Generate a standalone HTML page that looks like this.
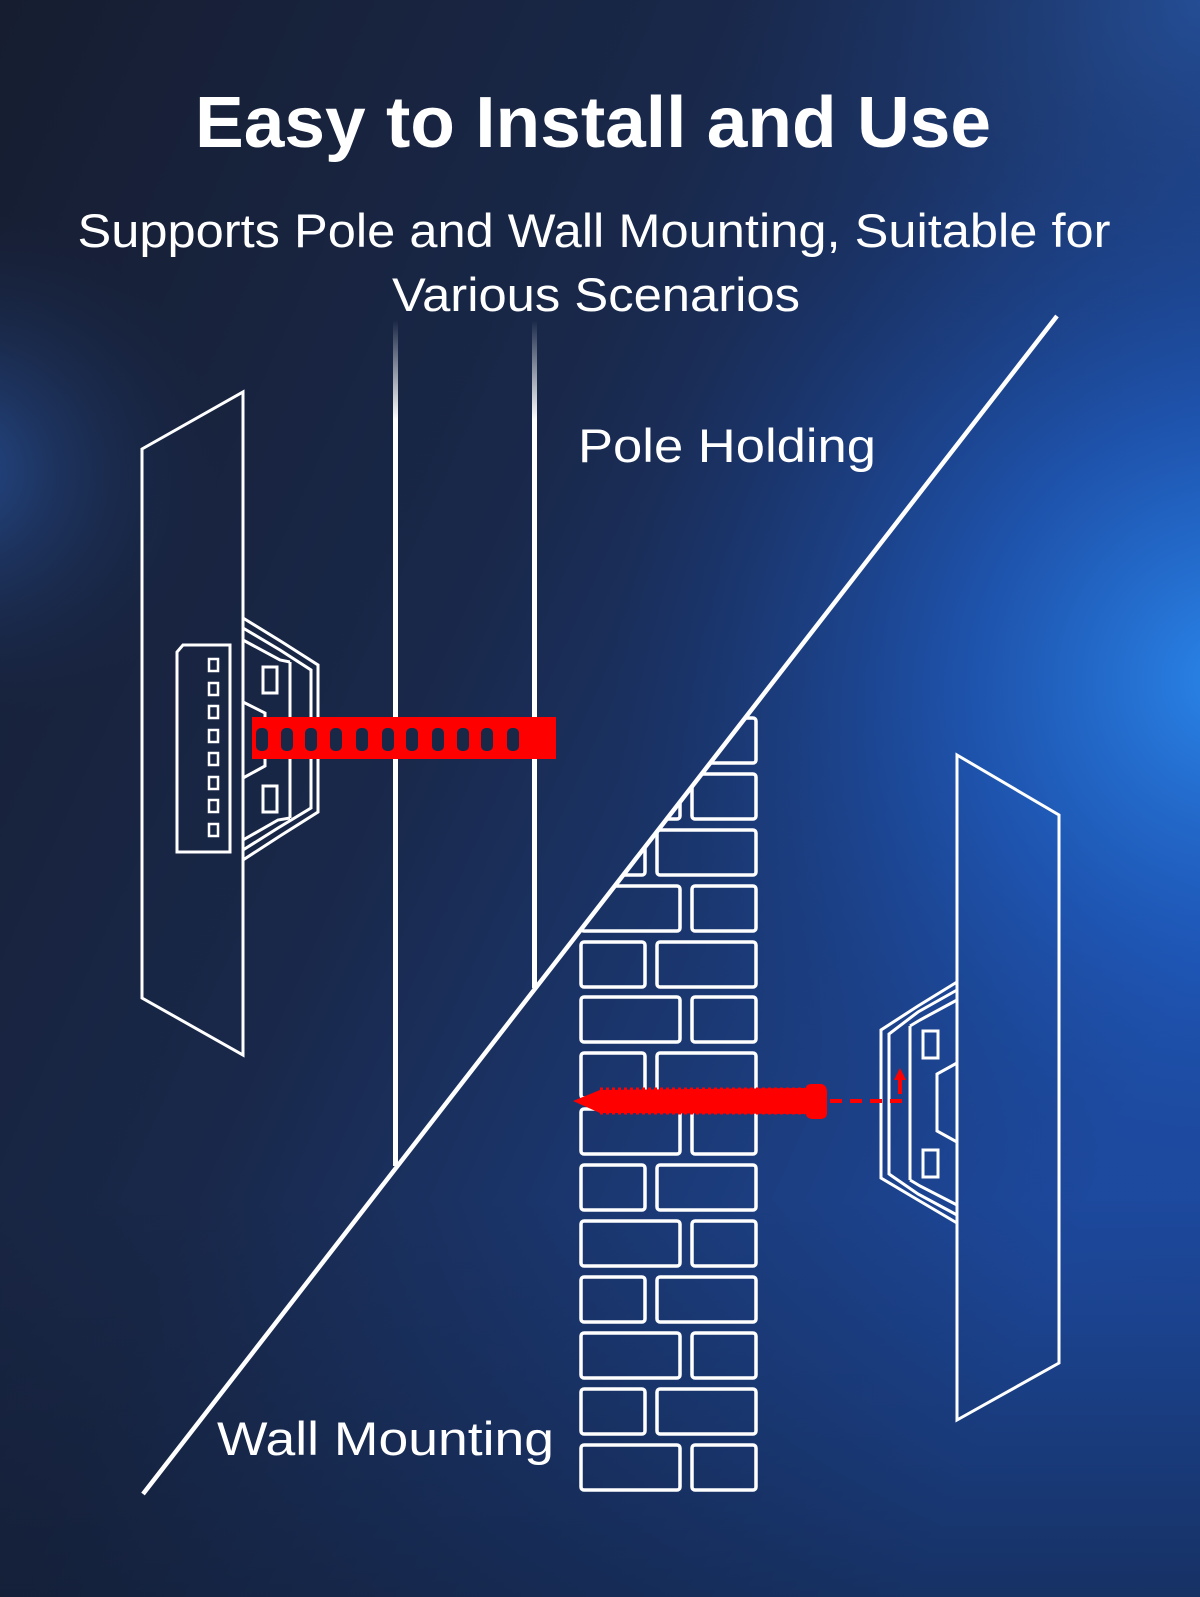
<!DOCTYPE html>
<html><head><meta charset="utf-8"><style>
html,body{margin:0;padding:0;background:#16213a;}
svg{display:block;}
</style></head><body>
<svg width="1200" height="1597" viewBox="0 0 1200 1597" xmlns="http://www.w3.org/2000/svg">
<defs>
<linearGradient id="bg" x1="0" y1="0" x2="1" y2="0.6">
<stop offset="0" stop-color="#161d30"/>
<stop offset="0.45" stop-color="#19284a"/>
<stop offset="1" stop-color="#1d4aa0"/>
</linearGradient>
<radialGradient id="glowR" cx="1230" cy="680" r="620" gradientUnits="userSpaceOnUse">
<stop offset="0" stop-color="#2a86ea" stop-opacity="1"/>
<stop offset="0.45" stop-color="#1f5ec4" stop-opacity="0.6"/>
<stop offset="1" stop-color="#1a3a80" stop-opacity="0"/>
</radialGradient>
<radialGradient id="glowL" cx="-40" cy="470" r="260" gradientUnits="userSpaceOnUse">
<stop offset="0" stop-color="#2a5cb0" stop-opacity="0.7"/>
<stop offset="1" stop-color="#1a2a50" stop-opacity="0"/>
</radialGradient>
<radialGradient id="glowT" cx="1200" cy="0" r="500" gradientUnits="userSpaceOnUse">
<stop offset="0" stop-color="#2a5aa8" stop-opacity="0.6"/>
<stop offset="1" stop-color="#1a2a50" stop-opacity="0"/>
</radialGradient>
<linearGradient id="bot" x1="0" y1="0" x2="0" y2="1">
<stop offset="0.75" stop-color="#101828" stop-opacity="0"/>
<stop offset="1" stop-color="#101828" stop-opacity="0.5"/>
</linearGradient>
<linearGradient id="pole" x1="0" y1="320" x2="0" y2="420" gradientUnits="userSpaceOnUse">
<stop offset="0" stop-color="#fff" stop-opacity="0"/>
<stop offset="1" stop-color="#fff" stop-opacity="1"/>
</linearGradient>
<clipPath id="wallclip"><polygon points="1057,316 1200,316 1200,1597 63,1597"/></clipPath>
</defs>
<rect width="1200" height="1597" fill="url(#bg)"/>
<rect width="1200" height="1597" fill="url(#glowT)"/>
<rect width="1200" height="1597" fill="url(#glowR)"/>
<rect width="1200" height="1597" fill="url(#glowL)"/>
<rect width="1200" height="1597" fill="url(#bot)"/>

<text x="593" y="147" text-anchor="middle" font-family="Liberation Sans, Arial, sans-serif" font-weight="bold" font-size="72" fill="#fff" textLength="796" lengthAdjust="spacingAndGlyphs">Easy to Install and Use</text>
<text x="594" y="247" text-anchor="middle" font-family="Liberation Sans, Arial, sans-serif" font-size="47" fill="#fff" textLength="1033" lengthAdjust="spacingAndGlyphs">Supports Pole and Wall Mounting, Suitable for</text>
<text x="596" y="311" text-anchor="middle" font-family="Liberation Sans, Arial, sans-serif" font-size="47" fill="#fff" textLength="408" lengthAdjust="spacingAndGlyphs">Various Scenarios</text>
<text x="578" y="462" font-family="Liberation Sans, Arial, sans-serif" font-size="47" fill="#fff" textLength="298" lengthAdjust="spacingAndGlyphs">Pole Holding</text>
<text x="217" y="1455" font-family="Liberation Sans, Arial, sans-serif" font-size="47" fill="#fff" textLength="337" lengthAdjust="spacingAndGlyphs">Wall Mounting</text>

<!-- poles -->
<rect x="393" y="320" width="5" height="846" fill="url(#pole)"/>
<rect x="532" y="320" width="5" height="668" fill="url(#pole)"/>

<!-- diagonal -->
<line x1="1057" y1="316" x2="143" y2="1494" stroke="#fff" stroke-width="4.5"/>

<!-- bricks -->
<g clip-path="url(#wallclip)" fill="none" stroke="#fff" stroke-width="3.5">
<g id="rowE"><rect x="581" y="718" width="64" height="45" rx="3"/><rect x="657" y="718" width="99" height="45" rx="3"/></g>
<rect x="581" y="774" width="99" height="45" rx="3"/><rect x="692" y="774" width="64" height="45" rx="3"/>
<rect x="581" y="830" width="64" height="45" rx="3"/><rect x="657" y="830" width="99" height="45" rx="3"/>
<rect x="581" y="886" width="99" height="45" rx="3"/><rect x="692" y="886" width="64" height="45" rx="3"/>
<rect x="581" y="942" width="64" height="45" rx="3"/><rect x="657" y="942" width="99" height="45" rx="3"/>
<rect x="581" y="997" width="99" height="45" rx="3"/><rect x="692" y="997" width="64" height="45" rx="3"/>
<rect x="581" y="1053" width="64" height="45" rx="3"/><rect x="657" y="1053" width="99" height="45" rx="3"/>
<rect x="581" y="1109" width="99" height="45" rx="3"/><rect x="692" y="1109" width="64" height="45" rx="3"/>
<rect x="581" y="1165" width="64" height="45" rx="3"/><rect x="657" y="1165" width="99" height="45" rx="3"/>
<rect x="581" y="1221" width="99" height="45" rx="3"/><rect x="692" y="1221" width="64" height="45" rx="3"/>
<rect x="581" y="1277" width="64" height="45" rx="3"/><rect x="657" y="1277" width="99" height="45" rx="3"/>
<rect x="581" y="1333" width="99" height="45" rx="3"/><rect x="692" y="1333" width="64" height="45" rx="3"/>
<rect x="581" y="1389" width="64" height="45" rx="3"/><rect x="657" y="1389" width="99" height="45" rx="3"/>
<rect x="581" y="1445" width="99" height="45" rx="3"/><rect x="692" y="1445" width="64" height="45" rx="3"/>
</g>

<!-- left panel + device -->
<g fill="none" stroke="#fff" stroke-width="3">
<polygon points="142,449 243,392 243,1055 142,998"/>
<path d="M183,645 L230,645 L230,852 L177,852 L177,652 Z"/>
<g stroke-width="2.5">
<rect x="209" y="659" width="9" height="12"/><rect x="209" y="683" width="9" height="12"/>
<rect x="209" y="706" width="9" height="12"/><rect x="209" y="730" width="9" height="12"/>
<rect x="209" y="753" width="9" height="12"/><rect x="209" y="777" width="9" height="12"/>
<rect x="209" y="800" width="9" height="12"/><rect x="209" y="824" width="9" height="12"/>
</g>
<polyline points="243,618 282,642 318,665 318,812 280,836 243,860"/>
<polyline points="243,628 280,650 311,670 311,808 278,828 243,850"/>
<polyline points="243,640 280,660 290,662"/>
<polyline points="243,840 278,820 290,818"/>
<line x1="290" y1="662" x2="290" y2="818"/>
<rect x="263" y="667" width="14" height="26"/>
<rect x="263" y="786" width="14" height="26"/>
<polyline points="243,702 265,713 265,766 243,778"/>
</g>
<!-- red bar -->
<rect x="252" y="717" width="304" height="42" fill="#f00"/>
<g fill="#1a2848">
<rect x="256" y="728" width="12" height="23" rx="5"/><rect x="281" y="728" width="12" height="23" rx="5"/>
<rect x="305" y="728" width="12" height="23" rx="5"/><rect x="330" y="728" width="12" height="23" rx="5"/>
<rect x="356" y="728" width="12" height="23" rx="5"/><rect x="382" y="728" width="12" height="23" rx="5"/>
<rect x="406" y="728" width="12" height="23" rx="5"/><rect x="432" y="728" width="12" height="23" rx="5"/>
<rect x="457" y="728" width="12" height="23" rx="5"/><rect x="481" y="728" width="12" height="23" rx="5"/>
<rect x="507" y="728" width="12" height="23" rx="5"/>
</g>

<!-- right panel + device -->
<g fill="none" stroke="#fff" stroke-width="3">
<polygon points="957,755 1059,815 1059,1363 957,1420"/>
<polyline points="957,982 918,1006 881,1030 881,1178 918,1200 957,1223"/>
<polyline points="957,990 918,1012 889,1034 889,1174 918,1194 957,1215"/>
<polyline points="957,1000 920,1020 910,1026"/>
<polyline points="957,1205 920,1186 910,1180"/>
<line x1="910" y1="1026" x2="910" y2="1180"/>
<rect x="923" y="1031" width="15" height="27"/>
<rect x="923" y="1150" width="15" height="27"/>
<polyline points="957,1063 937,1074 937,1131 957,1142"/>
</g>
<!-- screw -->
<g fill="#f00">
<path d="M573,1101 L600,1090 L806,1088 Q806,1084 812,1084 L822,1084 Q828,1086 827,1095 L827,1110 Q828,1118 822,1119 L812,1119 Q806,1118 806,1114 L600,1113 Z"/>
<line x1="600" y1="1089" x2="805" y2="1089" stroke="#f00" stroke-width="3" stroke-dasharray="3 3"/>
<line x1="600" y1="1113" x2="805" y2="1113" stroke="#f00" stroke-width="3" stroke-dasharray="3 3"/>
<line x1="830" y1="1101" x2="904" y2="1101" stroke="#f00" stroke-width="4" stroke-dasharray="12 8"/>
<rect x="898" y="1078" width="4" height="16"/>
<polygon points="894,1080 900,1068 906,1080"/>
</g>
</svg>
</body></html>
